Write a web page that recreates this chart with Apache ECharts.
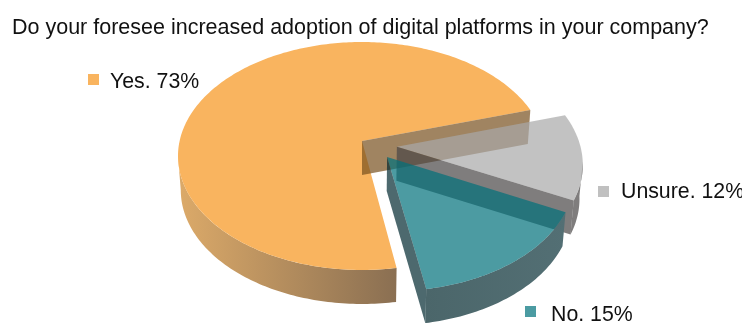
<!DOCTYPE html>
<html>
<head>
<meta charset="utf-8">
<style>html,body{margin:0;padding:0;background:#fff}#chart{width:742px;height:323px}</style>
<script src="https://cdn.jsdelivr.net/npm/echarts@6/dist/echarts.min.js"></script>
</head>
<body>
<div id="chart"></div>
<script>
// Survey answers, drawn clockwise from START_ANGLE in this order.
const categories = ['Yes', 'Unsure', 'No'];
const shares = [73, 12, 15];
const titleText = 'Do your foresee increased adoption of digital platforms in your company?';

// Colours per answer.
const topColors = ['rgb(249,180,95)', 'rgba(168,168,168,0.7)', 'rgba(0,112,122,0.7)'];
const cutColors = ['rgba(120,80,30,0.7)', 'rgba(72,70,70,0.7)', 'rgba(2,41,48,0.7)'];
const rimFrom = ['#dcaa69', '#7f7d7d', '#4b666a'];
const rimTo = ['#8a6f52', '#7f7d7d', '#536f74'];

// Pie geometry: tilted disc seen in perspective.
const START_ANGLE = 170.5;
const CENTER = [362, 141];
const RADIUS = [182.4, 112];
const PERSPECTIVE = 0.1316;
const DEPTH = 34;
const DEPTH_SHRINK = 0.985;
const explode = [[0, 0], [0.19, 0.05], [0.135, 0.14]];
const FACING_FROM = 97.6, FACING_TO = 262.4;

// Legend placement per answer: swatch corner and text start.
const swatchAt = [[88, 74], [598, 186], [525, 306]];
const textAt = [[110, 82], [621, 192], [551, 315]];
const SWATCH = 11;
const FONT = '"Liberation Sans", Arial, sans-serif';

const rad = d => d * Math.PI / 180;

function project(u, v, low) {
  const w = 1 - PERSPECTIVE * v;
  let x = RADIUS[0] * u / w, y = CENTER[1] + RADIUS[1] * v / w;
  if (low) { x *= DEPTH_SHRINK; y += DEPTH; }
  return [CENTER[0] + x, y];
}
function rimPoint(i, a, low) {
  return project(Math.sin(rad(a)) + explode[i][0], -Math.cos(rad(a)) + explode[i][1], low);
}
function apex(i, low) {
  return project(explode[i][0], explode[i][1], low);
}
function arc(i, a0, a1, low) {
  const pts = [];
  const n = Math.max(2, Math.ceil(Math.abs(a1 - a0)));
  for (let k = 0; k <= n; k++) pts.push(rimPoint(i, a0 + (a1 - a0) * k / n, low));
  return pts;
}
function poly(points, fill) {
  return { type: 'polygon', shape: { points }, style: { fill, stroke: null } };
}

// Start and end angle of each slice.
const spans = [];
shares.reduce((from, s, i) => {
  const to = from + s / 100 * 360;
  spans[i] = [from, to];
  return to;
}, START_ANGLE);

function renderSlice(params, api) {
  const i = params.dataIndex;
  const [a0, a1] = spans[i];
  const value = api.value(0);
  const parts = [];

  // Front-facing part of the outer rim.
  let f0 = a0 % 360, f1 = f0 + (a1 - a0);
  f0 = Math.max(f0, FACING_FROM);
  f1 = Math.min(f1, FACING_TO);
  if (f1 > f0) {
    const top = arc(i, f0, f1, false), low = arc(i, f1, f0, true);
    const xs = top.concat(low).map(p => p[0]);
    parts.push(poly(top.concat(low), new echarts.graphic.LinearGradient(
      Math.min(...xs), 0, Math.max(...xs), 0,
      [{ offset: 0, color: rimFrom[i] }, { offset: 1, color: rimTo[i] }], true)));
  }

  // Top face.
  parts.push(poly([apex(i, false)].concat(arc(i, a0, a1, false)), topColors[i]));

  // Radial cut face on the slice's clockwise end, turned towards the viewer.
  parts.push(poly([apex(i, false), rimPoint(i, a1, false), rimPoint(i, a1, true), apex(i, true)], cutColors[i]));

  // Legend swatch and label.
  parts.push({ type: 'rect', shape: { x: swatchAt[i][0], y: swatchAt[i][1], width: SWATCH, height: SWATCH },
    style: { fill: i === 0 ? topColors[0] : i === 1 ? '#c0c0c0' : '#4b9ba2' } });
  parts.push({ type: 'text', style: {
    x: textAt[i][0], y: textAt[i][1], text: categories[i] + '. ' + value + '%',
    font: '21.3px ' + FONT, fill: '#111', textVerticalAlign: 'middle'
  } });
  return { type: 'group', children: parts };
}

const chart = echarts.init(document.getElementById('chart'), null, { renderer: 'canvas' });
chart.setOption({
  animation: false,
  backgroundColor: '#fff',
  title: {
    text: titleText, left: 12, top: 17, padding: 0,
    textStyle: { fontFamily: FONT, fontSize: 21.5, fontWeight: 'normal', color: '#111' }
  },
  series: [{
    type: 'custom',
    coordinateSystem: 'none',
    silent: true,
    renderItem: renderSlice,
    data: shares.map(s => [s])
  }]
});
</script>
</body>
</html>
